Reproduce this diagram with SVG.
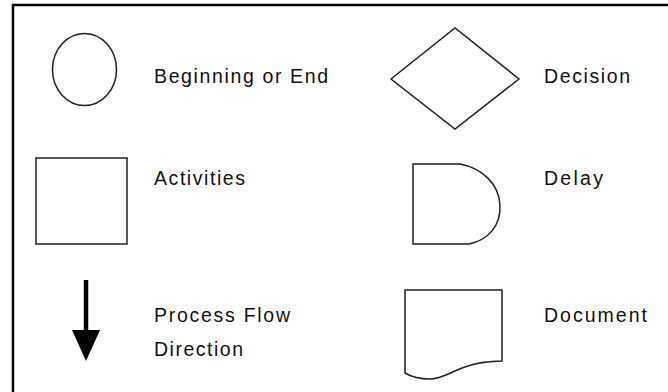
<svg xmlns="http://www.w3.org/2000/svg" width="668" height="392" viewBox="0 0 668 392">
<style>
.shape{fill:none;stroke:#222;stroke-width:1.5}
.lbl{font-family:"Liberation Sans",Arial,sans-serif;font-size:19.5px;fill:#111}
</style>
<rect width="668" height="392" fill="#fff"/>
<g id="frame">
<path d="M13,392 V5 H668" fill="none" stroke="#000" stroke-width="2.5"/>
</g>
<g id="begin-end">
<ellipse class="shape" cx="84.5" cy="69.5" rx="32" ry="36"/>
<text class="lbl" x="154" y="83" textLength="174" lengthAdjust="spacing">Beginning or End</text>
</g>
<g id="decision">
<path class="shape" d="M391,79 L455,28 L519,79 L455,129 Z"/>
<text class="lbl" x="544" y="83" textLength="86" lengthAdjust="spacing">Decision</text>
</g>
<g id="activities">
<rect class="shape" x="36" y="158" width="91" height="86"/>
<text class="lbl" x="154" y="185" textLength="91" lengthAdjust="spacing">Activities</text>
</g>
<g id="delay">
<path class="shape" d="M413,164 H460 C482,168 499,184 500,205 C501,226 488,240 469,244 H413 Z"/>
<text class="lbl" x="544" y="185" textLength="59" lengthAdjust="spacing">Delay</text>
</g>
<g id="connectors">
<line x1="86" y1="280" x2="86" y2="332" stroke="#000" stroke-width="4.5"/>
<path d="M72,330 H100 L86,361 Z" fill="#000"/>
</g>
<g id="process-flow">
<text class="lbl" x="154" y="322" textLength="136" lengthAdjust="spacing">Process Flow</text>
<text class="lbl" x="154" y="356" textLength="89" lengthAdjust="spacing">Direction</text>
</g>
<g id="document">
<path class="shape" d="M405,290 H502 V361 C488,362 478,362 465,367 C450,372 442,379 430,379 C418,379 410,376 405,373 Z"/>
<text class="lbl" x="544" y="322" textLength="103" lengthAdjust="spacing">Document</text>
</g>
</svg>
